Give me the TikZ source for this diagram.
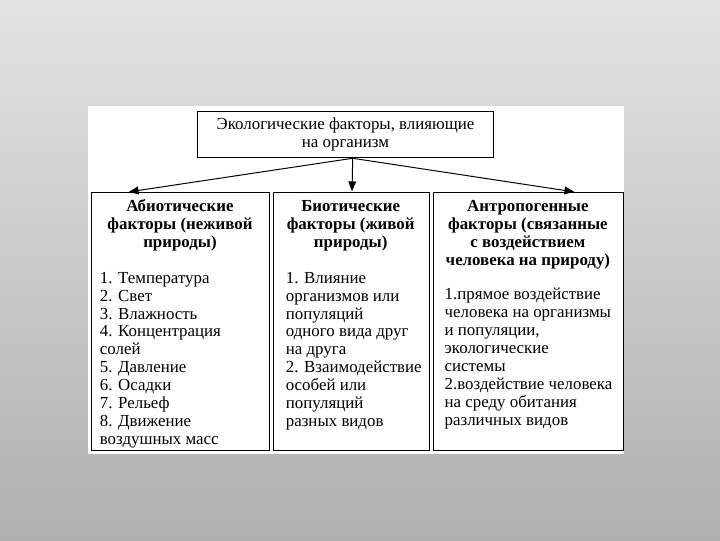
\documentclass[tikz,border=0pt]{standalone}
\usepackage{fontspec}
\setmainfont{Liberation Serif}
\usetikzlibrary{arrows.meta}
\newcommand\tstrut{\rule{0pt}{0.3cm}}
\tikzset{
  box/.style={draw=black, line width=0.9pt, fill=white, inner sep=0pt, anchor=north west},
  txt/.style={font=\fontsize{12}{12.73}\selectfont, inner sep=0pt, anchor=north},
  head/.style={txt, font=\fontsize{12}{12.73}\selectfont\bfseries, align=center},
  body/.style={txt, align=left, anchor=north west},
  arr/.style={-{Triangle[length=7pt,width=5.5pt]}, line width=0.7pt, shorten >=0.5pt}
}
\begin{document}
\begin{tikzpicture}[x=0.025cm,y=-0.025cm]
\shade[top color=gray!22, bottom color=gray!62] (0,0) rectangle (720,540);
\useasboundingbox (0,0) rectangle (720,540);
\fill[white] (88,106) rectangle (624,454);

\node[box, minimum width=7.4cm, minimum height=1.15cm] (top) at (197,111) {};
\node[box, minimum width=4.45cm, minimum height=6.45cm] (abio) at (91,192) {};
\node[box, minimum width=3.8875cm, minimum height=6.45cm] (bio) at (273,192) {};
\node[box, minimum width=4.7425cm, minimum height=6.45cm] (anth) at (433,192) {};

\node[txt, align=center] (toptxt) at (345.5,117.3) {\tstrut Экологические факторы, влияющие\\на организм};

\node[head] (h1) at (180,199.5) {\tstrut Абиотические\\факторы (неживой\\природы)};
\node[head] (h2) at (350.7,199.5) {\tstrut Биотические\\факторы (живой\\природы)};
\node[head] (h3) at (527.9,199.5) {\tstrut Антропогенные\\факторы (связанные\\с воздействием\\человека на природу)};

\node[body] (b1) at (99.6,271) {\tstrut 1. Температура\\2. Свет\\3. Влажность\\4. Концентрация\\солей\\5. Давление\\6. Осадки\\7. Рельеф\\8. Движение\\воздушных масс};
\node[body] (b2) at (285.6,271) {\tstrut 1. Влияние\\организмов или\\популяций\\одного вида друг\\на друга\\2. Взаимодействие\\особей или\\популяций\\разных видов};
\node[body] (b3) at (444.4,287.5) {\tstrut 1.прямое воздействие\\человека на организмы\\и популяции,\\экологические\\системы\\2.воздействие человека\\на среду обитания\\различных видов};

\draw[arr] ([xshift=0.175cm]top.south) -- ([xshift=0.925cm]abio.north west);
\draw[arr] ([xshift=0.175cm]top.south) -- ([xshift=1.975cm]bio.north west);
\draw[arr] ([xshift=0.175cm]top.south) -- ([xshift=3.55cm]anth.north west);
\end{tikzpicture}
\end{document}
